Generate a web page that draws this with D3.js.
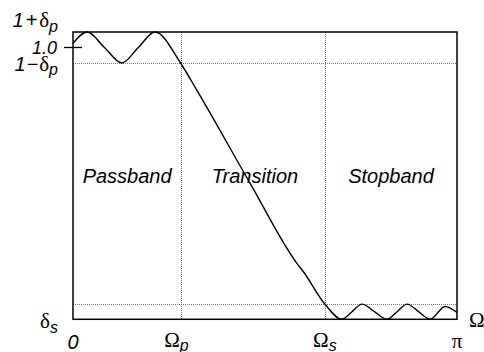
<!DOCTYPE html>
<html>
<head>
<meta charset="utf-8">
<script src="https://cdn.jsdelivr.net/npm/d3@7"></script>
<style>
  html, body { margin: 0; padding: 0; background: #fff; }
  svg { display: block; }
</style>
</head>
<body>
<svg id="chart" width="484" height="352"></svg>
<script>
// ---- data (frequency in units of pi, magnitude) ----
const omega = [0, 0.037, 0.082, 0.127, 0.170, 0.2135, 0.28, 0.322, 0.461, 0.583, 0.600, 0.656,
               0.7005, 0.7266, 0.7526, 0.785, 0.8177, 0.844, 0.87, 0.90, 0.93, 0.969, 1.0];
const magnitude = [1.015, 1.057, 1.0, 0.943, 1.0, 1.057, 0.943, 0.844, 0.501, 0.206, 0.175, 0.056,
                   0.0, 0.028, 0.056, 0.028, 0.0, 0.028, 0.056, 0.028, 0.0, 0.047, 0.025];
const deltaP = 0.057;
const deltaS = 0.056;
const omegaP = 0.28;
const omegaS = 0.656;
const bandLabels = ["Passband", "Transition", "Stopband"];
const bandCenters = [0.141, 0.474, 0.828];

const svg = d3.select("#chart");
const plotLeft = 73, plotRight = 457, plotTop = 32, plotBottom = 319.3;

const x = d3.scaleLinear().domain([0, 1]).range([plotLeft, plotRight]);
const y = d3.scaleLinear().domain([0, 1 + deltaP]).range([plotBottom, plotTop]);

const sans = "'Liberation Sans', Arial, Helvetica, sans-serif";
const serif = "'Liberation Serif', 'Times New Roman', serif";

// dotted reference lines
const dot = { stroke: "#777", "stroke-width": 1, "stroke-dasharray": "1,1" };
function applyAttrs(sel, a) { Object.entries(a).forEach(([k, v]) => sel.attr(k, v)); return sel; }

[1 - deltaP, deltaS].forEach(v => {
  applyAttrs(svg.append("line")
    .attr("x1", x(0)).attr("x2", x(1))
    .attr("y1", Math.round(y(v)) + 0.5).attr("y2", Math.round(y(v)) + 0.5), dot);
});
[omegaP, omegaS].forEach(v => {
  applyAttrs(svg.append("line")
    .attr("x1", Math.round(x(v)) + 0.5).attr("x2", Math.round(x(v)) + 0.5)
    .attr("y1", y(1 + deltaP)).attr("y2", y(0)), dot);
});

// frame
svg.append("rect")
  .attr("x", x(0)).attr("y", y(1 + deltaP))
  .attr("width", x(1) - x(0)).attr("height", y(0) - y(1 + deltaP))
  .attr("fill", "none").attr("stroke", "#000").attr("stroke-width", 1.5);

// 1.0 tick
svg.append("line")
  .attr("x1", x(0) - 9).attr("x2", x(0) + 9)
  .attr("y1", y(1)).attr("y2", y(1))
  .attr("stroke", "#000").attr("stroke-width", 1.3);

// curve
const pts = omega.map((w, i) => [w, magnitude[i]]);
const line = d3.line().x(d => x(d[0])).y(d => y(d[1])).curve(d3.curveMonotoneX);
svg.append("path")
  .attr("d", line(pts))
  .attr("fill", "none").attr("stroke", "#000").attr("stroke-width", 1.4)
  .attr("stroke-linejoin", "round");

// band labels
bandLabels.forEach((t, i) => {
  svg.append("text")
    .attr("x", x(bandCenters[i])).attr("y", 183)
    .attr("text-anchor", "middle")
    .attr("font-family", sans).attr("font-style", "italic").attr("font-size", 20)
    .text(t);
});

// helper for mixed labels
function label(xp, yp, anchor, parts, subDy, size) {
  subDy = subDy || 5;
  size = size || 20;
  const t = svg.append("text")
    .attr("x", xp).attr("y", yp).attr("text-anchor", anchor)
    .attr("font-family", sans).attr("font-style", "italic").attr("font-size", size);
  let sub = false;
  parts.forEach(([s, k, dx]) => {
    const ts = t.append("tspan").text(s);
    if (dx) ts.attr("dx", dx);
    if (k === "g") {
      ts.attr("font-family", serif).attr("font-style", "normal").attr("font-size", size + 1);
      if (sub) { ts.attr("dy", -subDy); sub = false; }
    } else if (k === "s") {
      ts.attr("font-size", size - 4).attr("dy", subDy); sub = true;
    } else {
      if (sub) { ts.attr("dy", -subDy); sub = false; }
    }
  });
  return t;
}

// left labels
label(58, 27, "end", [["1", "n"], ["+", "n", 2], ["δ", "g", 2], ["p", "s"]]);
label(57, 54, "end", [["1.0", "n"]], 5, 18);
label(58, 71, "end", [["1", "n"], ["−", "n", 1], ["δ", "g", 1], ["p", "s"]], 4);
label(58, 328, "end", [["δ", "g"], ["s", "s"]]);

// bottom labels
label(x(0), 349, "middle", [["0", "n"]]);
label(x(omegaP) - 4, 347, "middle", [["Ω", "g"], ["p", "s"]], 4);
label(x(omegaS), 347, "middle", [["Ω", "g"], ["s", "s"]], 4);
label(x(1), 348, "middle", [["π", "g"]]);
label(469, 327, "start", [["Ω", "g"]]);
</script>
</body>
</html>
